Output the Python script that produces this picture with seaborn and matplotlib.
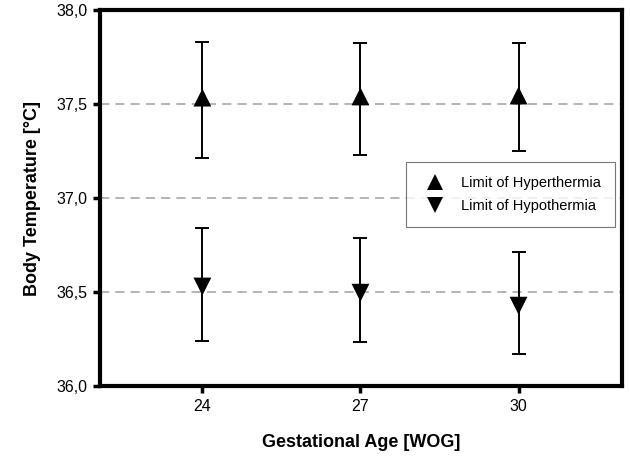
import matplotlib
matplotlib.use("Agg")
import matplotlib.pyplot as plt
import seaborn as sns
import pandas as pd
from matplotlib.ticker import FuncFormatter

# values
weeks = [24, 27, 30]
hyper_mean = [37.535, 37.541, 37.546]
hyper_low = [37.216, 37.232, 37.252]
hyper_high = [37.833, 37.828, 37.823]
hypo_mean = [36.530, 36.497, 36.428]
hypo_low = [36.239, 36.234, 36.170]
hypo_high = [36.842, 36.787, 36.711]
labels = ["Limit of Hyperthermia", "Limit of Hypothermia"]

df = pd.DataFrame({
    "week": weeks * 2,
    "temp": hyper_mean + hypo_mean,
    "low": hyper_low + hypo_low,
    "high": hyper_high + hypo_high,
    "limit": [labels[0]] * 3 + [labels[1]] * 3,
})

sns.set_style("white")
plt.rcParams["font.family"] = ["Liberation Sans", "DejaVu Sans"]
plt.rcParams["text.color"] = "black"
plt.rcParams["axes.labelcolor"] = "black"
plt.rcParams["xtick.color"] = "black"
plt.rcParams["ytick.color"] = "black"

fig, ax = plt.subplots(figsize=(6.3, 4.63), dpi=100)

# dashed reference lines
for y in [36.5, 37.0, 37.5]:
    ax.axhline(y, color="#a0a0a0", lw=1.1, ls=(0, (6, 4)), zorder=0)

# error bars
ax.errorbar(df["week"], df["temp"],
            yerr=[df["temp"] - df["low"], df["high"] - df["temp"]],
            fmt="none", ecolor="black", elinewidth=1.4, capsize=4.8, capthick=1.4, zorder=2)

sns.scatterplot(data=df, x="week", y="temp", style="limit",
                markers={labels[0]: "^", labels[1]: "v"}, color="black",
                s=165, edgecolor="black", linewidth=0, ax=ax, zorder=3)

ax.set_xlim(22.06, 31.96)
ax.set_ylim(36.0, 38.0)
ax.set_xticks(weeks)
ax.set_yticks([36.0, 36.5, 37.0, 37.5, 38.0])
ax.yaxis.set_major_formatter(FuncFormatter(lambda v, p: f"{v:.1f}".replace(".", ",")))
ax.tick_params(axis="both", direction="out", length=5, width=2.5, labelsize=11.5, pad=4,
               bottom=True, left=True, color="black", labelcolor="black")

for s in ax.spines.values():
    s.set_linewidth(3)
    s.set_color("black")

ax.set_xlabel("Gestational Age [WOG]", fontsize=13, fontweight="bold", labelpad=15)
ax.set_ylabel("Body Temperature [°C]", fontsize=13, fontweight="bold", labelpad=11)

leg = ax.legend(loc="upper left", bbox_to_anchor=(0.587, 0.595), fontsize=10.5,
                frameon=True, fancybox=False, edgecolor="#555555",
                borderpad=0.95, handletextpad=0.8, labelspacing=0.6, markerscale=0.85,
                borderaxespad=0)
leg.get_frame().set_linewidth(0.8)

plt.subplots_adjust(left=0.159, right=0.987, top=0.978, bottom=0.166)
fig.savefig("out.png", dpi=100)
